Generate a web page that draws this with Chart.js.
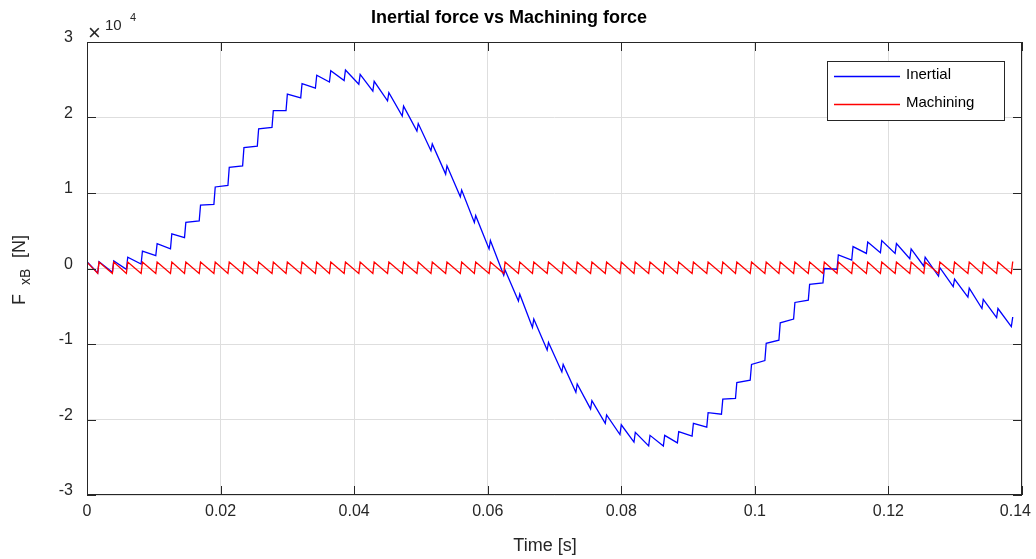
<!DOCTYPE html>
<html>
  <head>
    <title>Inertial force vs Machining force</title>
    <script src="https://cdn.jsdelivr.net/npm/chart.js"></script>
    <style>
      html, body { margin: 0; padding: 0; background: #fff; }
    </style>
  </head>
  <body>
    <canvas id="forceChart" width="1036" height="559"></canvas>
    <script>
      // axis ticks (y in units of 10^4 N)
      const xTicks = [0, 0.02, 0.04, 0.06, 0.08, 0.1, 0.12, 0.14];
      const yTicks = [-3, -2, -1, 0, 1, 2, 3];

      // time of every cutter tooth step [s]
      const toothTimes = [
        0.0016, 0.0038, 0.0059, 0.0081, 0.0103, 0.0125, 0.0146, 0.0168, 0.0190, 0.0211,
        0.0233, 0.0255, 0.0277, 0.0298, 0.0320, 0.0342, 0.0363, 0.0385, 0.0407, 0.0428,
        0.0450, 0.0472, 0.0494, 0.0515, 0.0537, 0.0559, 0.0580, 0.0602, 0.0624, 0.0646,
        0.0667, 0.0689, 0.0711, 0.0732, 0.0754, 0.0776, 0.0798, 0.0819, 0.0841, 0.0863,
        0.0884, 0.0906, 0.0928, 0.0950, 0.0971, 0.0993, 0.1015, 0.1036, 0.1058, 0.1080,
        0.1102, 0.1123, 0.1145, 0.1167, 0.1188, 0.1210, 0.1232, 0.1253, 0.1275, 0.1297,
        0.1319, 0.1340, 0.1362, 0.1384
      ];
      const tStart = 0;
      const tEnd = 0.1387;

      // Inertial force [N]: value just before / just after each step
      const inertialLow = [
        -600, -500, -100, 600, 1700, 2600, 4100, 6300, 8500, 11000,
        13600, 16200, 18700, 20900, 22600, 23900, 24700, 24900, 24400, 23500,
        22200, 20200, 18200, 15600, 12500, 9500, 6100, 2600, -900, -4300,
        -7800, -10800, -13700, -16400, -18600, -20500, -22000, -23000, -23500, -23500,
        -23100, -22200, -21000, -19300, -17200, -14800, -12200, -9500, -6700, -4200,
        -1900, -100, 1100, 2000, 2100, 2000, 1300, 300, -1000, -2400,
        -3800, -5300, -6500, -7700
      ];
      const inertialHigh = [
        900, 1000, 1500, 2300, 3300, 4600, 6100, 8400, 10800, 13400,
        16000, 18500, 20900, 23100, 24500, 25600, 26200, 26300, 25700, 24800,
        23300, 21500, 19200, 16500, 13600, 10400, 7000, 3700, -200, -3400,
        -6700, -9800, -12700, -15300, -17500, -19400, -20700, -21700, -22100, -22100,
        -21600, -20500, -19100, -17300, -15100, -12700, -9900, -7200, -4500, -2100,
        0, 1800, 2900, 3500, 3700, 3300, 2600, 1500, 100, -1400,
        -2600, -4100, -5300, -6500
      ];
      const inertialStart = 900;
      const inertialEnd = -6500;

      // Machining force [N]: value just before / just after each step
      const machiningLow = [
        -650, -650, -650, -650, -650, -650, -650, -650, -650, -650, -650, -650, -650, -650, -650, -650,
        -650, -650, -650, -650, -650, -650, -650, -650, -650, -650, -650, -650, -650, -650, -650, -650,
        -650, -650, -650, -650, -650, -650, -650, -650, -650, -650, -650, -650, -650, -650, -650, -650,
        -650, -650, -650, -650, -650, -650, -650, -650, -650, -650, -650, -650, -650, -650, -650, -650
      ];
      const machiningHigh = [
        850, 850, 850, 850, 850, 850, 850, 850, 850, 850, 850, 850, 850, 850, 850, 850,
        850, 850, 850, 850, 850, 850, 850, 850, 850, 850, 850, 850, 850, 850, 850, 850,
        850, 850, 850, 850, 850, 850, 850, 850, 850, 850, 850, 850, 850, 850, 850, 850,
        850, 850, 850, 850, 850, 850, 850, 850, 850, 850, 850, 850, 850, 850, 850, 850
      ];
      const machiningStart = 850;
      const machiningEnd = 850;

      function stepSeries(start, lows, highs, end) {
        const pts = [{ x: tStart, y: start }];
        toothTimes.forEach((t, i) => {
          pts.push({ x: t, y: lows[i] });
          pts.push({ x: t + 0.0002, y: highs[i] });
        });
        pts.push({ x: tEnd, y: end });
        return pts;
      }

      const FONT = "'Liberation Sans', Arial, Helvetica, sans-serif";
      const INK = "#262626";

      const frame = {
        id: "frame",
        afterDraw(chart) {
          const { ctx, chartArea: a, scales } = chart;
          ctx.save();
          // axes box
          ctx.strokeStyle = INK;
          ctx.lineWidth = 1;
          ctx.strokeRect(a.left + 0.5, a.top + 0.5, a.right - a.left - 1, a.bottom - a.top - 1);
          // inward ticks
          ctx.beginPath();
          xTicks.forEach((v) => {
            const px = Math.round(scales.x.getPixelForValue(v)) + 0.5;
            ctx.moveTo(px, a.bottom); ctx.lineTo(px, a.bottom - 9);
            ctx.moveTo(px, a.top); ctx.lineTo(px, a.top + 9);
          });
          yTicks.forEach((v) => {
            const py = Math.round(scales.y.getPixelForValue(v * 1e4)) + 0.5;
            ctx.moveTo(a.left, py); ctx.lineTo(a.left + 9, py);
            ctx.moveTo(a.right, py); ctx.lineTo(a.right - 9, py);
          });
          ctx.stroke();

          // x tick labels (last one kept inside the figure, as in the original)
          ctx.fillStyle = INK;
          ctx.font = "16px " + FONT;
          ctx.textAlign = "center";
          ctx.textBaseline = "top";
          xTicks.forEach((v) => {
            const label = String(v);
            const w = ctx.measureText(label).width;
            const px = Math.min(scales.x.getPixelForValue(v), 1031 - w / 2);
            ctx.fillText(label, px, a.bottom + 9);
          });

          ctx.fillStyle = "#000";
          ctx.textBaseline = "alphabetic";
          // title
          ctx.font = "bold 18px " + FONT;
          ctx.fillText("Inertial force vs Machining force", 509, 23);
          // x label
          ctx.fillStyle = INK;
          ctx.font = "18px " + FONT;
          ctx.fillText("Time [s]", 545, 551);
          // exponent
          ctx.textAlign = "left";
          ctx.font = "22px " + FONT;
          ctx.fillText("\u00d7", 88, 40);
          ctx.font = "15px " + FONT;
          ctx.fillText("10", 105, 30);
          ctx.font = "11px " + FONT;
          ctx.fillText("4", 130, 21);
          // y label
          ctx.save();
          ctx.translate(25, 305);
          ctx.rotate(-Math.PI / 2);
          ctx.font = "18px " + FONT;
          ctx.fillText("F", 0, 0);
          ctx.font = "14px " + FONT;
          ctx.fillText("xB", 20, 5);
          ctx.font = "18px " + FONT;
          ctx.fillText("[N]", 47, 0);
          ctx.restore();

          // legend
          ctx.fillStyle = "#fff";
          ctx.fillRect(827, 61, 178, 60);
          ctx.strokeStyle = INK;
          ctx.strokeRect(827.5, 61.5, 177, 59);
          ctx.lineWidth = 1.3;
          ctx.strokeStyle = "#0000ff";
          ctx.beginPath(); ctx.moveTo(834, 76.5); ctx.lineTo(900, 76.5); ctx.stroke();
          ctx.strokeStyle = "#ff0000";
          ctx.beginPath(); ctx.moveTo(834, 104.5); ctx.lineTo(900, 104.5); ctx.stroke();
          ctx.fillStyle = "#000";
          ctx.font = "15px " + FONT;
          ctx.fillText("Inertial", 906, 79);
          ctx.fillText("Machining", 906, 107);
          ctx.restore();
        },
      };

      const ctx = document.getElementById("forceChart").getContext("2d");
      new Chart(ctx, {
        type: "scatter",
        data: {
          datasets: [
            {
              label: "Machining",
              data: stepSeries(machiningStart, machiningLow, machiningHigh, machiningEnd),
              showLine: true,
              borderColor: "#ff0000",
              borderWidth: 1.3,
              pointRadius: 0,
              tension: 0,
            },
            {
              label: "Inertial",
              data: stepSeries(inertialStart, inertialLow, inertialHigh, inertialEnd),
              showLine: true,
              borderColor: "#0000ff",
              borderWidth: 1.3,
              pointRadius: 0,
              tension: 0,
            },
          ],
        },
        options: {
          responsive: false,
          animation: false,
          layout: { padding: { left: 0, right: 14, top: 42, bottom: 0 } },
          plugins: {
            legend: { display: false },
            title: { display: false },
            tooltip: { enabled: false },
          },
          scales: {
            x: {
              type: "linear",
              min: 0,
              max: 0.14,
              afterBuildTicks: (s) => { s.ticks = xTicks.map((v) => ({ value: v })); },
              afterFit: (s) => { s.height = 64; s.paddingLeft = 0; s.paddingRight = 0; },
              ticks: { display: false },
              grid: { color: "#dedede", drawTicks: false, tickLength: 0 },
              border: { display: false },
            },
            y: {
              type: "linear",
              min: -30000,
              max: 30000,
              afterBuildTicks: (s) => { s.ticks = yTicks.map((v) => ({ value: v * 1e4 })); },
              afterFit: (s) => { s.width = 87; s.paddingTop = 0; s.paddingBottom = 0; },
              ticks: {
                padding: 14,
                labelOffset: -4,
                color: INK,
                font: { family: FONT, size: 16 },
                callback: (v) => String(v / 1e4),
              },
              grid: { color: "#dedede", drawTicks: false, tickLength: 0 },
              border: { display: false },
            },
          },
        },
        plugins: [frame],
      });
    </script>
  </body>
</html>
